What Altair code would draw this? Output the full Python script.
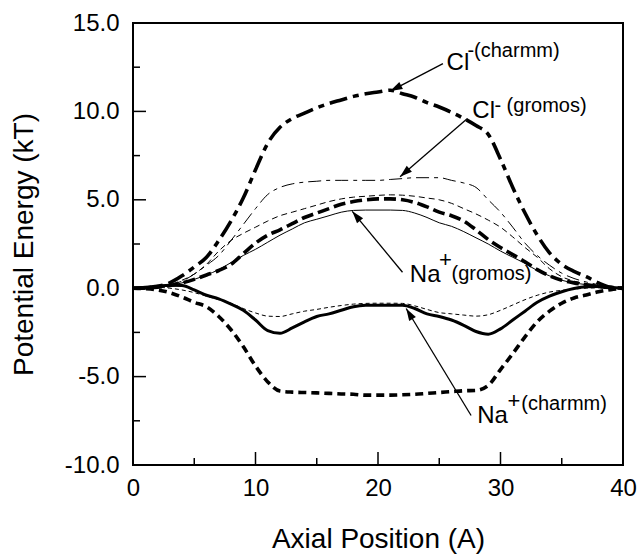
import math
import altair as alt
import pandas as pd

# ---------------- data ----------------
axial = list(range(41))

cl_charmm = [0, 0.02, 0.1, 0.3, 0.7, 1.2, 1.75, 2.7, 3.8, 5.1,
             6.7, 8.2, 9.1, 9.6, 9.9, 10.2, 10.45, 10.65, 10.85, 11.0,
             11.1, 11.2, 11.0, 10.8, 10.5, 10.25, 9.95, 9.6, 9.2, 8.7,
             7.3, 5.7, 4.25, 3.0, 2.0, 1.35, 0.95, 0.65, 0.3, 0.05, 0]

cl_gromos = [0, 0.02, 0.08, 0.2, 0.4, 0.8, 1.3, 1.85, 2.7, 3.6,
             4.5, 5.3, 5.7, 5.9, 6.0, 6.05, 6.1, 6.1, 6.1, 6.1,
             6.1, 6.15, 6.2, 6.25, 6.25, 6.25, 6.1, 5.95, 5.7, 5.0,
             4.3, 3.45, 2.55, 1.85, 1.3, 0.85, 0.55, 0.35, 0.2, 0.08, 0]

upper_thin_dash = [0, 0.02, 0.08, 0.2, 0.45, 0.8, 1.35, 2.1, 2.7, 3.1,
                   3.45, 3.8, 4.1, 4.3, 4.5, 4.7, 4.9, 5.05, 5.15, 5.2,
                   5.25, 5.28, 5.26, 5.2, 5.1, 5.0, 4.8, 4.5, 4.2, 3.85,
                   3.45, 2.9, 2.3, 1.75, 1.1, 0.65, 0.4, 0.25, 0.15, 0.05, 0]

upper_thick_dash = [0, 0.02, 0.06, 0.15, 0.3, 0.5, 0.75, 1.0, 1.35, 1.95,
                    2.55, 3.0, 3.3, 3.65, 4.0, 4.25, 4.5, 4.75, 4.9, 5.0,
                    5.05, 5.05, 5.0, 4.85, 4.6, 4.3, 4.1, 3.8, 3.3, 2.75,
                    2.3, 1.9, 1.5, 1.05, 0.7, 0.45, 0.3, 0.2, 0.1, 0.04, 0]

na_gromos = [0, 0.02, 0.06, 0.15, 0.3, 0.5, 0.75, 1.05, 1.45, 1.85,
             2.2, 2.6, 3.0, 3.35, 3.7, 3.9, 4.1, 4.3, 4.4, 4.42,
             4.42, 4.42, 4.4, 4.25, 4.0, 3.7, 3.5, 3.2, 2.85, 2.5,
             2.1, 1.75, 1.4, 1.0, 0.7, 0.45, 0.3, 0.2, 0.1, 0.04, 0]

na_charmm = [0, 0.05, 0.12, 0.17, 0.15, -0.1, -0.4, -0.6, -0.9, -1.25,
             -1.8, -2.4, -2.55, -2.25, -1.9, -1.6, -1.45, -1.25, -1.05, -0.97,
             -0.96, -0.96, -0.96, -1.15, -1.45, -1.6, -1.8, -2.1, -2.45, -2.6,
             -2.3, -1.8, -1.3, -0.8, -0.45, -0.2, -0.02, 0.08, 0.1, 0.06, 0]

lower_thin_dash = [0, 0.03, 0.05, 0.0, -0.1, -0.25, -0.45, -0.65, -0.85, -1.15,
                   -1.4, -1.58, -1.6, -1.45, -1.3, -1.2, -1.08, -0.98, -0.9, -0.86,
                   -0.85, -0.85, -0.86, -1.0, -1.2, -1.38, -1.45, -1.52, -1.58, -1.5,
                   -1.25, -0.95, -0.65, -0.4, -0.22, -0.12, -0.05, 0, 0.02, 0.01, 0]

lower_thick_dash = [0, -0.03, -0.1, -0.25, -0.5, -0.8, -1.05, -1.6, -2.35, -3.3,
                    -4.4, -5.3, -5.82, -5.88, -5.9, -5.92, -5.95, -5.98, -6.0, -6.05,
                    -6.05, -6.05, -6.03, -6.0, -5.95, -5.9, -5.85, -5.8, -5.78, -5.5,
                    -4.6, -3.7, -2.75, -1.9, -1.3, -0.85, -0.55, -0.38, -0.2, -0.08, 0]

series_values = {
    "cl_charmm": cl_charmm,
    "cl_gromos": cl_gromos,
    "upper_thin_dash": upper_thin_dash,
    "upper_thick_dash": upper_thick_dash,
    "na_gromos": na_gromos,
    "na_charmm": na_charmm,
    "lower_thin_dash": lower_thin_dash,
    "lower_thick_dash": lower_thick_dash,
}

x_label_values = [0, 10, 20, 30, 40]
y_label_values = [-10, -5, 0, 5, 10, 15]
x_major_ticks = [10, 20, 30]
x_minor_ticks = [5, 15, 25, 35]
y_major_ticks = [-5, 0, 5, 10]
y_minor_ticks = [-7.5, -2.5, 2.5, 7.5, 12.5]

# annotation arrows: tail (x, y) -> tip (x, y)
arrow_tail_x = [25.3, 27.3, 22.0, 27.6]
arrow_tail_y = [12.7, 9.6, 0.9, -7.2]
arrow_tip_x = [21.0, 21.8, 17.9, 22.3]
arrow_tip_y = [11.15, 6.3, 4.35, -1.15]

# annotation texts
big_text = ["Cl", "Cl", "Na", "Na"]
big_x = [25.6, 27.7, 22.6, 28.1]
big_y = [12.35, 9.65, 0.35, -7.6]
small_text = ["-(charmm)", "- (gromos)", "(gromos)", "(charmm)"]
small_x = [27.3, 29.5, 26.0, 31.7]
small_y = [13.1, 9.95, 0.45, -6.9]
plus_x = [25.5, 31.1]
plus_y = [1.6, -6.4]

# ---------------- styling ----------------
W, H = 490, 442
FONT = "Liberation Sans"
styles = {
    "cl_charmm": dict(strokeWidth=3.6, strokeDash=[18, 6, 6, 6]),
    "cl_gromos": dict(strokeWidth=1.0, strokeDash=[13, 5, 4, 5]),
    "upper_thin_dash": dict(strokeWidth=1.0, strokeDash=[6, 4]),
    "upper_thick_dash": dict(strokeWidth=3.6, strokeDash=[12, 5]),
    "na_gromos": dict(strokeWidth=1.0),
    "na_charmm": dict(strokeWidth=3.0),
    "lower_thin_dash": dict(strokeWidth=1.0, strokeDash=[4, 3]),
    "lower_thick_dash": dict(strokeWidth=3.6, strokeDash=[8, 5]),
}

xscale = alt.Scale(domain=[0, 40], nice=False, zero=False)
yscale = alt.Scale(domain=[-10, 15], nice=False, zero=False)

xaxis = alt.Axis(values=x_label_values, ticks=False, domain=False, grid=False,
                 labelFont=FONT, labelFontSize=24, labelColor="black", labelPadding=11,
                 labelFlush=False, labelOverlap=False,
                 title="Axial Position (A)", titleFont=FONT, titleFontSize=28,
                 titleFontWeight="normal", titleColor="black",
                 titleY=82, titleBaseline="alphabetic")
yaxis = alt.Axis(values=y_label_values, ticks=False, domain=False, grid=False,
                 labelFont=FONT, labelFontSize=24, labelColor="black", labelPadding=14,
                 labelFlush=False, labelOverlap=False,
                 labelExpr="(datum.value < 0 ? '-' : '') + format(abs(datum.value), '.1f')",
                 title="Potential Energy (kT)", titleFont=FONT, titleFontSize=28,
                 titleFontWeight="normal", titleColor="black",
                 titleX=-101, titleY=H / 2, titleBaseline="alphabetic", titleAngle=-90)


def X(field, **kw):
    return alt.X(field, type="quantitative", scale=xscale, axis=xaxis, **kw)


def Y(field, **kw):
    return alt.Y(field, type="quantitative", scale=yscale, axis=yaxis, **kw)


layers = []
for name, vals in series_values.items():
    df = pd.DataFrame({"x": axial, "y": vals})
    layers.append(
        alt.Chart(df).mark_line(color="black", interpolate="monotone", clip=True,
                                strokeCap="butt", **styles[name])
        .encode(x=X("x"), y=Y("y"))
    )

# inward ticks
def xticks(vals, length):
    return alt.Chart(pd.DataFrame({"v": vals})).mark_rule(color="black", strokeWidth=1.5).encode(
        x=X("v"), y=alt.value(H), y2=alt.value(H - length))


def yticks(vals, length):
    return alt.Chart(pd.DataFrame({"v": vals})).mark_rule(color="black", strokeWidth=1.5).encode(
        y=Y("v"), x=alt.value(0), x2=alt.value(length))


layers += [xticks(x_major_ticks, 13), xticks(x_minor_ticks, 7),
           yticks(y_major_ticks, 13), yticks(y_minor_ticks, 7)]

# arrows
px_x, px_y = W / 40.0, H / 25.0
angles = []
for tx, ty, hx, hy in zip(arrow_tail_x, arrow_tail_y, arrow_tip_x, arrow_tip_y):
    dx = (hx - tx) * px_x
    dy = -(hy - ty) * px_y
    angles.append(math.degrees(math.atan2(dx, -dy)) % 360)

arrows = pd.DataFrame({"x": arrow_tail_x, "y": arrow_tail_y,
                       "x2": arrow_tip_x, "y2": arrow_tip_y, "ang": angles})
layers.append(alt.Chart(arrows).mark_rule(color="black", strokeWidth=1.3).encode(
    x=X("x"), y=Y("y"), x2="x2", y2="y2"))
layers.append(alt.Chart(arrows).mark_point(
    shape="M0,0L-0.32,1L0.32,1Z", filled=True, color="black", opacity=1, size=600,
    strokeWidth=0).encode(
    x=X("x2"), y=Y("y2"), angle=alt.Angle("ang:Q", scale=None)))

# texts
big = pd.DataFrame({"t": big_text, "x": big_x, "y": big_y})
layers.append(alt.Chart(big).mark_text(font=FONT, fontSize=24, align="left",
                                       baseline="alphabetic", color="black").encode(
    x=X("x"), y=Y("y"), text="t:N"))
small = pd.DataFrame({"t": small_text, "x": small_x, "y": small_y})
layers.append(alt.Chart(small).mark_text(font=FONT, fontSize=20, align="left",
                                         baseline="alphabetic", color="black").encode(
    x=X("x"), y=Y("y"), text="t:N"))
plus = pd.DataFrame({"t": ["+", "+"], "x": plus_x, "y": plus_y})
layers.append(alt.Chart(plus).mark_text(font=FONT, fontSize=22, align="center",
                                        baseline="middle", color="black").encode(
    x=X("x"), y=Y("y"), text="t:N"))

chart = alt.layer(*layers).properties(
    width=W, height=H,
    autosize=alt.AutoSizeParams(type="none"),
    padding={"left": 133, "top": 23, "right": 16, "bottom": 90},
    background="white",
).configure_view(stroke="black", strokeWidth=2)

chart.save("out.html", embed_options={"renderer": "svg", "actions": False})
